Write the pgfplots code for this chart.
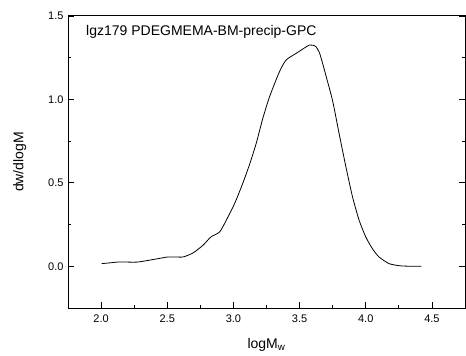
\documentclass[border=0pt]{standalone}
\usepackage{fontspec}
\setmainfont{Liberation Sans}
\usepackage{pgfplots}
\pgfplotsset{compat=1.18}
\begin{document}
\begin{tikzpicture}
\begin{axis}[
  scale only axis,
  width=397pt, height=292pt,
  xmin=1.75, xmax=4.75, ymin=-0.25, ymax=1.5,
  xtick={2.0,2.5,3.0,3.5,4.0,4.5},
  ytick={0.0,0.5,1.0,1.5},
  minor x tick num=1, minor y tick num=1,
  xtick pos=bottom, ytick pos=both,
  tick align=inside,
  major tick length=6pt, minor tick length=3pt,
  axis line style={line width=1pt},
  every tick/.style={black, line width=0.8pt},
  /pgf/number format/assume math mode=true,
  /pgf/number format/fixed, /pgf/number format/fixed zerofill, /pgf/number format/precision=1,
  tick label style={font=\fontsize{11}{13}\selectfont},
  xticklabel style={yshift=-3pt},
  yticklabel style={xshift=-1pt},
  xlabel={logM\textsubscript{w}},
  ylabel={dw/dlogM},
  label style={font=\fontsize{14}{16}\selectfont},
  xlabel style={yshift=-9pt},
  ylabel style={yshift=15pt},
]
\addplot[black, line width=0.8pt, smooth, tension=0.4] coordinates {
(2.005,0.016) (2.06,0.020) (2.14,0.026) (2.27,0.025) (2.39,0.040) (2.46,0.050)
(2.507,0.056) (2.56,0.056) (2.62,0.056) (2.695,0.080) (2.77,0.126) (2.83,0.176)
(2.896,0.206) (2.946,0.276) (3.009,0.376) (3.07,0.496) (3.12,0.606) (3.172,0.736)
(3.222,0.886) (3.273,1.016) (3.348,1.166) (3.398,1.236) (3.474,1.276) (3.53,1.305)
(3.574,1.326) (3.60,1.325) (3.624,1.316) (3.65,1.28) (3.674,1.216) (3.70,1.14)
(3.75,0.99) (3.80,0.79) (3.85,0.596) (3.90,0.416) (3.95,0.276) (4.00,0.176)
(4.05,0.106) (4.10,0.056) (4.176,0.016) (4.25,0.004) (4.30,0.001) (4.42,0.0)
};
\node[anchor=base west, font=\fontsize{14}{16}\selectfont, inner sep=0pt]
  at ([xshift=18pt,yshift=-20pt]rel axis cs:0,1) {lgz179 PDEGMEMA-BM-precip-GPC};
\end{axis}
\pgfresetboundingbox
\path[use as bounding box] ([xshift=-68pt,yshift=-47pt]current axis.south west) rectangle ([xshift=1pt,yshift=16pt]current axis.north east);
\end{tikzpicture}
\end{document}
